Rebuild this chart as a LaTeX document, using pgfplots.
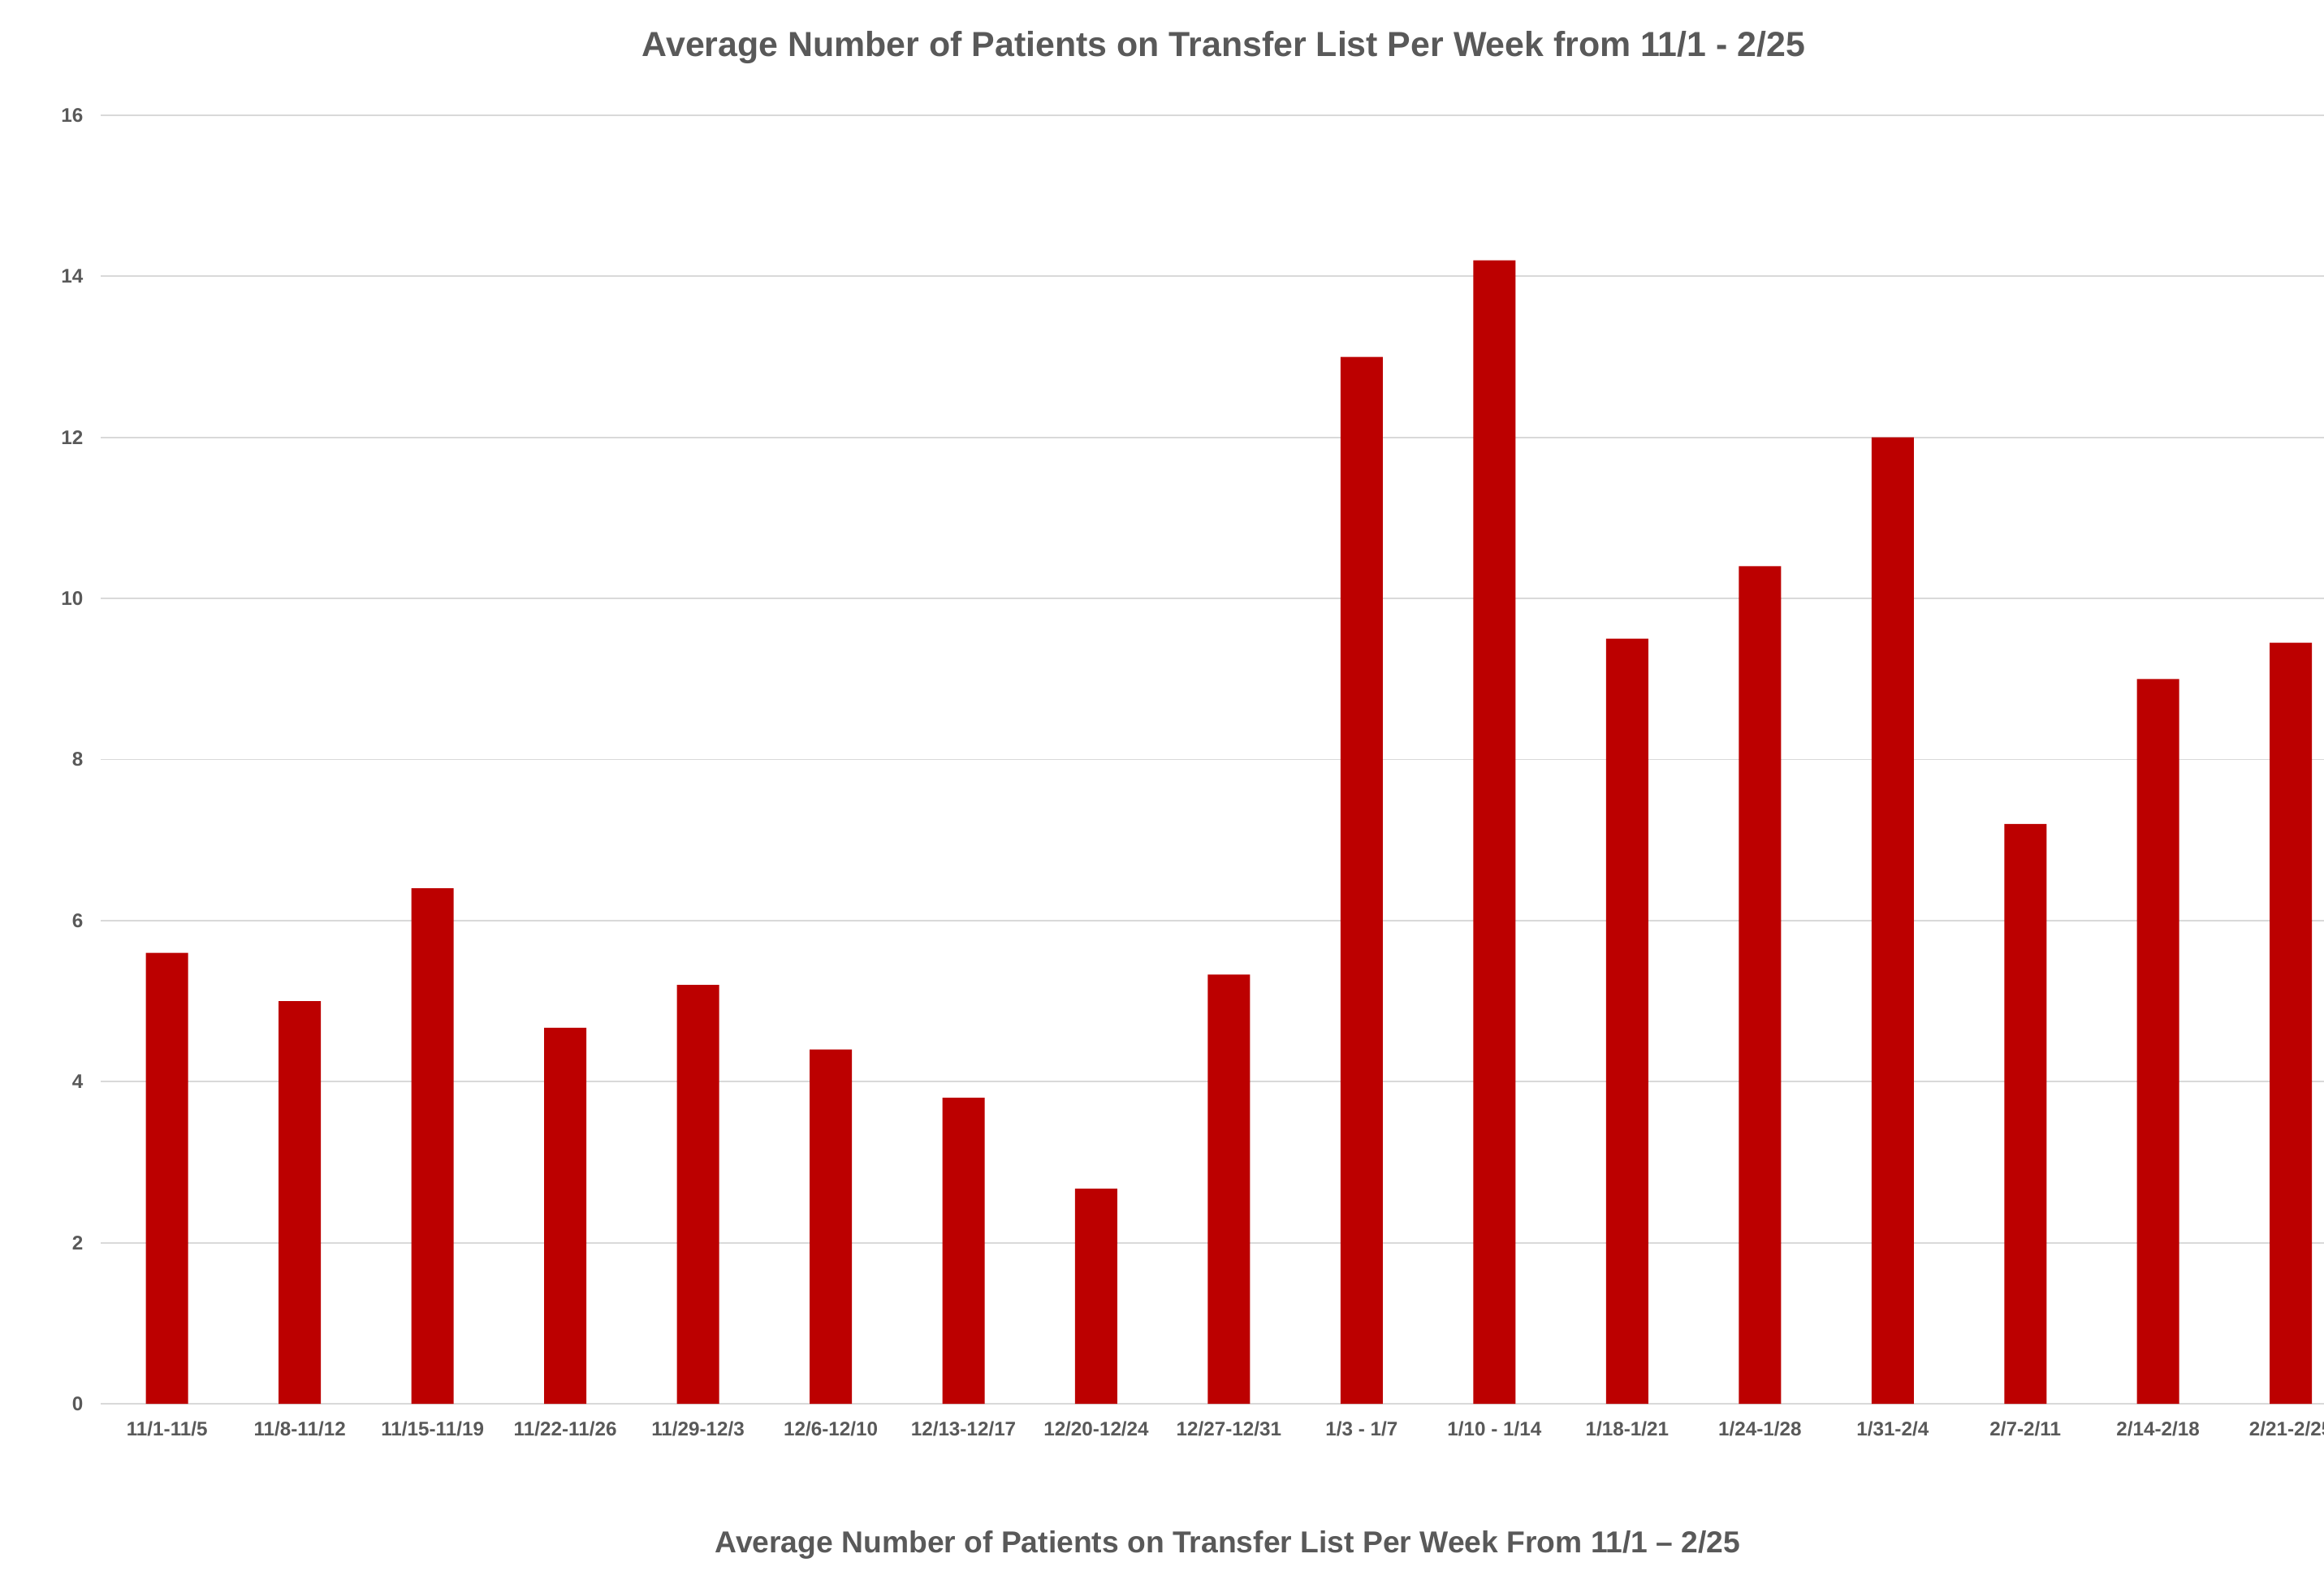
\documentclass[border=0pt]{standalone}
\usepackage{pgfplots}
\pgfplotsset{compat=1.18}
\usepackage{fontspec}
\setmainfont{Liberation Sans}
\definecolor{barred}{RGB}{188,0,0}
\definecolor{txt}{RGB}{89,89,89}
\definecolor{gridc}{RGB}{217,217,217}
\begin{document}
\begin{tikzpicture}[x=1mm,y=1mm]
\clip (0,0) rectangle (286.2,193.4);
\begin{axis}[
  at={(12.4mm,20.5mm)}, anchor=south west,
  scale only axis, width=273.8mm, height=158.7mm,
  xmin=-0.5, xmax=16.25, ymin=0, ymax=16,
  ytick={0,2,...,16}, xtick={0,...,16},
  xticklabels={11/1-11/5,11/8-11/12,11/15-11/19,11/22-11/26,11/29-12/3,12/6-12/10,12/13-12/17,12/20-12/24,12/27-12/31,1/3 - 1/7,1/10 - 1/14,1/18-1/21,1/24-1/28,1/31-2/4,2/7-2/11,2/14-2/18,2/21-2/25},
  axis line style={draw=none},
  ymajorgrids, grid style={gridc, line width=0.5pt},
  major tick length=0pt,
  tick label style={font=\bfseries\fontsize{6.9}{8}\selectfont, text=txt, inner sep=0pt},
  yticklabel style={xshift=-2.1mm},
  xticklabel style={yshift=-2.1mm},
  /pgf/number format/assume math mode=true,
  ybar, bar width=5.2mm,
]
\addplot[fill=barred, draw=none] coordinates {
(0,5.6) (1,5.0) (2,6.4) (3,4.67) (4,5.2) (5,4.4) (6,3.8) (7,2.67) (8,5.33)
(9,13.0) (10,14.2) (11,9.5) (12,10.4) (13,12.0) (14,7.2) (15,9.0) (16,9.45)
};
\end{axis}
\node[anchor=base, inner sep=0pt, text=txt, font=\bfseries\fontsize{12.2}{14}\selectfont] at (150.7,186.4) {Average Number of Patients on Transfer List Per Week from 11/1 - 2/25};
\node[anchor=base, inner sep=0pt, text=txt, font=\bfseries\fontsize{10.6}{13}\selectfont] at (151.2,2.2) {Average Number of Patients on Transfer List Per Week From 11/1 \textendash\ 2/25};
\end{tikzpicture}
\end{document}
